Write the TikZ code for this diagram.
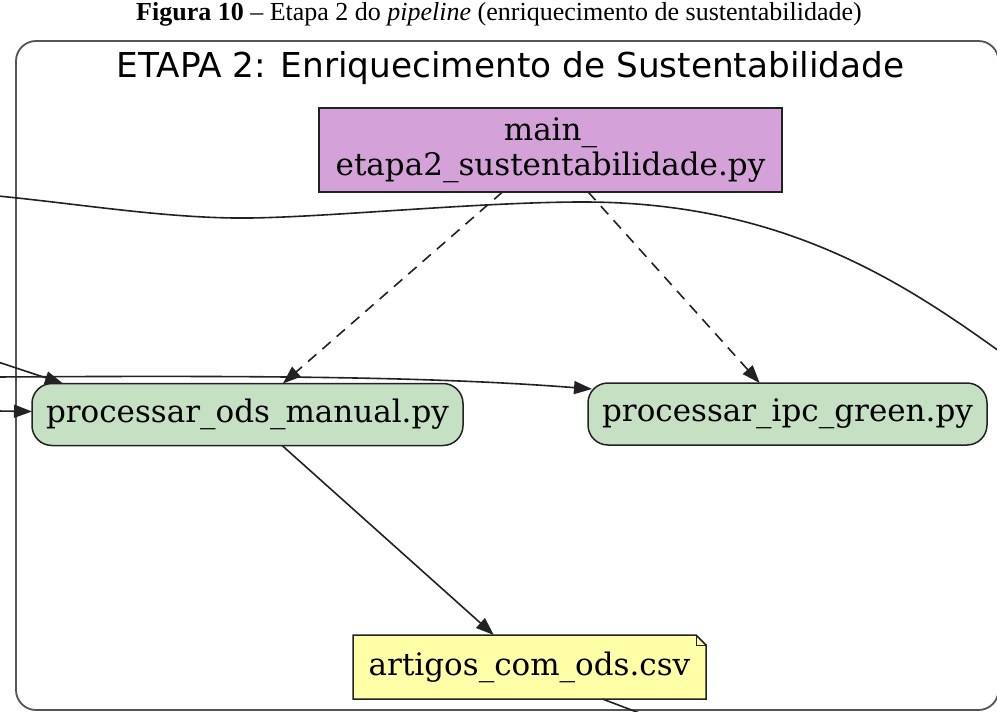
\documentclass[tikz,border=0pt]{standalone}
\usepackage{fontspec}
\setmainfont{DejaVu Serif}
\newfontfamily\capfont{Liberation Serif}
\newfontfamily\titlefont{DejaVu Sans}
\usetikzlibrary{arrows.meta,calc,backgrounds}
\definecolor{purp}{HTML}{D4A1D8}
\definecolor{grn}{HTML}{C6E0C4}
\definecolor{yel}{HTML}{FFFFA8}
\definecolor{edgec}{HTML}{222222}
\definecolor{clus}{HTML}{555555}
\begin{document}
\begin{tikzpicture}[x=1pt,y=-1pt,
  every node/.style={inner sep=0pt, outer sep=0pt},
  box/.style={draw=edgec, line width=1.5pt, font=\fontsize{31}{35}\selectfont, align=center},
  mainbox/.style={box, fill=purp, minimum width=463pt, minimum height=84pt},
  greenbox/.style={box, fill=grn, rounded corners=20pt, minimum height=62pt},
  notebox/.style={font=\fontsize{31}{35}\selectfont, minimum width=353pt, minimum height=64pt},
  conn/.style={draw=edgec, line width=1.6pt},
  arr/.style={conn, -{Triangle[length=18pt,width=13pt]}},
  dashline/.style={dash pattern=on 11pt off 8pt},
  cluster/.style={draw=clus, line width=1.8pt, rounded corners=20pt}
]
\useasboundingbox (0,0) rectangle (997,712);

% caption
\node[anchor=base, font=\capfont\fontsize{26}{30}\selectfont] (cap) at (499,20)
  {\textbf{Figura 10} – Etapa 2 do \textit{pipeline} (enriquecimento de sustentabilidade)};

% cluster
\draw[cluster] (16,41) rectangle (998.5,710);
\node[anchor=base, font=\titlefont\fontsize{34.3}{40}\selectfont] (title) at (510.5,77)
  {ETAPA 2: Enriquecimento de Sustentabilidade};

% nodes
\node[mainbox] (main) at (550.5,150) {main\_\\etapa2\_sustentabilidade.py};
\node[greenbox, minimum width=431pt] (n1) at (247.5,414.5) {processar\_ods\_manual.py};
\node[greenbox, minimum width=399pt] (n2) at (787.5,414) {processar\_ipc\_green.py};
\node[notebox] (note) at (529.5,667) {artigos\_com\_ods.csv};
\begin{scope}[on background layer]
  \fill[white] (0,0) rectangle (997,712);
  \filldraw[fill=yel, draw=edgec, line width=1.5pt]
    (note.south west) -- (note.north west) -- ($(note.north east)+(-10,0)$)
    -- ($(note.north east)+(0,10)$) -- (note.south east) -- cycle;
  \draw[edgec, line width=1pt] ($(note.north east)+(-10,0)$) -- ($(note.north east)+(-10,10)$) -- ($(note.north east)+(0,10)$);
\end{scope}

% free ends
\coordinate (a1) at (-2,196);
\coordinate (a2) at (999,351);
\coordinate (b1) at (-2,362);
\coordinate (c1) at (-2,377);
\coordinate (d1) at (-2,411);
\coordinate (e2) at (642,714);

% edges
\draw[arr, dashline] (main) -- (n1);
\draw[arr, dashline] (main) -- (n2);
\draw[arr] (n1) -- (note);
\draw[conn] ($(note.south)+(73,0)$) -- (e2);
\draw[conn] (a1) .. controls (80,204) and (170,219) .. (250,218)
  .. controls (330,217) and (480,202) .. (583,202)
  .. controls (780,202) and (900,280) .. (a2);
\draw[arr] (b1) -- ($(n1.north west)+(31,0)$);
\draw[arr] (c1) .. controls (300,375) and (450,378) .. ($(n2.north west)+(4,6)$);
\draw[arr] (d1) -- ($(n1.west)+(0,-3)$);
\end{tikzpicture}
\end{document}
